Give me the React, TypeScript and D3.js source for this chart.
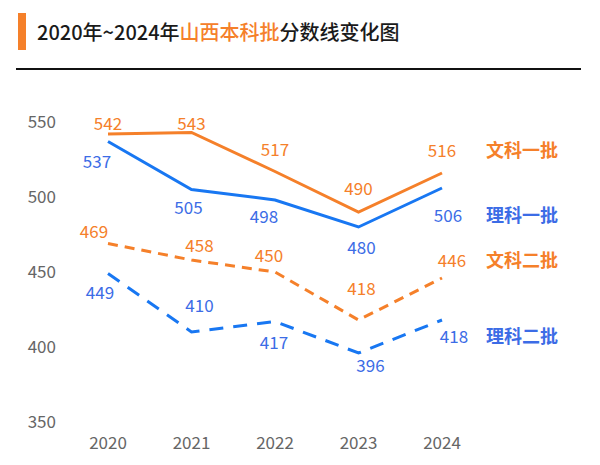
import * as d3 from 'd3';

const years = ['2020', '2021', '2022', '2023', '2024'];
const wenYi = [542, 543, 517, 490, 516];
const liYi = [537, 505, 498, 480, 506];
const wenEr = [469, 458, 450, 418, 446];
const liEr = [449, 410, 417, 396, 418];
const yTicks = [350, 400, 450, 500, 550];

const ORANGE = '#F5802A';
const BLUE = '#1877F2';
const BLUE_TEXT = '#3C6CE6';

// label offsets (px) relative to each point
const series = [
    { name: '文科一批', values: wenYi, color: ORANGE, text: ORANGE, dash: null, dx: [0, 0, 0, 0, 0], dy: [-10, -9, -22, -23, -22] },
    { name: '理科一批', values: liYi, color: BLUE, text: BLUE_TEXT, dash: null, dx: [-11, -3, -11, 3, 6], dy: [20, 18, 17, 21, 28] },
    { name: '文科二批', values: wenEr, color: ORANGE, text: ORANGE, dash: '10 7', dx: [-14, 8, -6, 3, 10], dy: [-12, -14, -16, -31, -17] },
    { name: '理科二批', values: liEr, color: BLUE, text: BLUE_TEXT, dash: '14 10', dx: [-8, 8, -1, 12, 12], dy: [19, -26, 21, 13, 17] },
];

export default function App() {
    const width = 600;
    const height = 465;
    const font = '"Noto Sans CJK SC", "Noto Sans", sans-serif';

    const x = d3.scalePoint<string>().domain(years).range([108, 442]);
    const y = d3.scaleLinear().domain([350, 550]).range([422, 122]);

    const line = d3.line<number>()
        .x((_, i) => x(years[i])!)
        .y(d => y(d));

    return (
        <svg width={width} height={height} style={{ position: 'absolute', left: 0, top: 0, background: '#fff' }} fontFamily={font}>
            {/* header */}
            <rect x={18} y={13} width={8} height={37} fill={ORANGE} />
            <text x={37} y={40} fontSize={20} fontWeight={500} fill="#1a1a1a">
                2020年~2024年<tspan fill={ORANGE}>山西本科批</tspan>分数线变化图
            </text>
            <line x1={16} x2={581} y1={69} y2={69} stroke="#111" strokeWidth={2} />

            {/* y ticks */}
            {yTicks.map(t => (
                <text key={t} x={56} y={y(t)} dy="0.36em" textAnchor="end" fontSize={17} fill="#666">{t}</text>
            ))}
            {/* x ticks */}
            {years.map(yr => (
                <text key={yr} x={x(yr)} y={443} dy="0.36em" textAnchor="middle" fontSize={17} fill="#666">{yr}</text>
            ))}

            {series.map(s => (
                <g key={s.name}>
                    <path d={line(s.values)!} fill="none" stroke={s.color} strokeWidth={3}
                        strokeDasharray={s.dash ?? undefined} strokeLinejoin="miter" />
                    {s.values.map((v, i) => (
                        <text key={i} x={x(years[i])! + s.dx[i]} y={y(v) + s.dy[i]} dy="0.36em"
                            textAnchor="middle" fontSize={17} fill={s.text}>{v}</text>
                    ))}
                    <text x={486} y={y(s.values[4]) + s.dy[4]} dy="0.36em" fontSize={18} fontWeight={600} fill={s.text}>{s.name}</text>
                </g>
            ))}
        </svg>
    );
}
